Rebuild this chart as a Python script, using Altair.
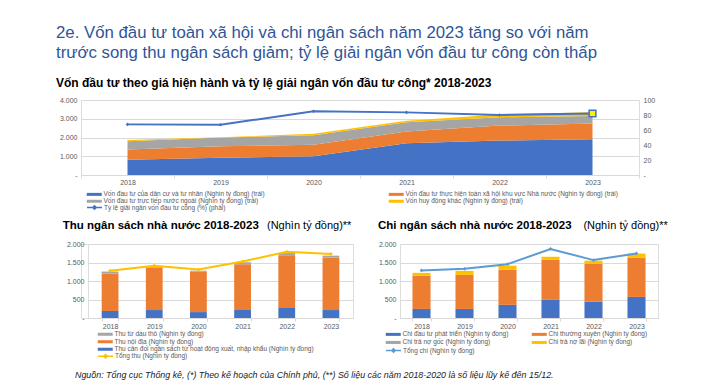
import altair as alt
import pandas as pd

FONT = "Liberation Sans"
BLUE = "#4472C4"
ORANGE = "#ED7D31"
GRAY = "#A5A5A5"
YELLOW = "#FFC000"
LIGHTBLUE = "#5B9BD5"
GRID = "#D9D9D9"
LBL = "#595959"

years = ["2018", "2019", "2020", "2021", "2022", "2023"]

# --- Chart 1: investment (stacked area, left) + disbursement rate (line, right)
inv_series = [
    "Vốn đầu tư của dân cư và tư nhân (Nghìn tỷ đồng) (trái)",
    "Vốn đầu tư thực hiện toàn xã hội khu vực Nhà nước (Nghìn tỷ đồng) (trái)",
    "Vốn đầu tư trực tiếp nước ngoài (Nghìn tỷ đồng) (trái)",
    "Vốn huy động khác (Nghìn tỷ đồng) (trái)",
]
inv_private = [820, 925, 995, 1690, 1835, 1905]
inv_state = [535, 605, 625, 625, 800, 840]
inv_fdi = [440, 465, 500, 500, 445, 405]
inv_other = [75, 15, 75, 75, 145, 200]
rate_label = "Tỷ lệ giải ngân vốn đầu tư công (%) (phải)"
rate_values = [67.5, 67, 85, 83.5, 80, 82]

# --- Chart 2: state budget revenue
rev_series = [
    "Thu từ dầu thô (Nghìn tỷ đồng)",
    "Thu nội địa (Nghìn tỷ đồng)",
    "Thu cân đối ngân sách từ hoạt động xuất, nhập khẩu (Nghìn tỷ đồng)",
]
rev_oil = [55, 20, 20, 55, 60, 55]
rev_domestic = [1010, 1140, 1100, 1235, 1425, 1415]
rev_trade = [190, 215, 160, 215, 270, 215]
rev_total_label = "Tổng thu (Nghìn tỷ đồng)"
rev_total = [1280, 1415, 1310, 1525, 1790, 1730]

# --- Chart 3: state budget expenditure
exp_series = [
    "Chi đầu tư phát triển (Nghìn tỷ đồng)",
    "Chi thường xuyên (Nghìn tỷ đồng)",
    "Chi trả nợ gốc (Nghìn tỷ đồng)",
    "Chi trả nợ lãi (Nghìn tỷ đồng)",
]
exp_dev = [245, 245, 355, 490, 445, 570]
exp_regular = [895, 920, 950, 1085, 1020, 1060]
exp_interest = [80, 110, 110, 80, 85, 110]
exp_total_label = "Tổng chi (Nghìn tỷ đồng)"
exp_total = [1285, 1330, 1455, 1865, 1565, 1745]

# --- Texts
main_title = [
    "2e. Vốn đầu tư toàn xã hội và chi ngân sách năm 2023 tăng so với năm",
    "trước song thu ngân sách giảm; tỷ lệ giải ngân vốn đầu tư công còn thấp",
]
title1 = "Vốn đầu tư theo giá hiện hành và tỷ lệ giải ngân vốn đầu tư công* 2018-2023"
title2 = "Thu ngân sách nhà nước 2018-2023"
title3 = "Chi ngân sách nhà nước 2018-2023"
unit_text = "(Nghìn tỷ đồng)**"
footnote = ("Nguồn: Tổng cục Thống kê, (*) Theo kế hoạch của Chính phủ, (**) Số liệu các năm "
            "2018-2020 là số liệu lũy kế đến 15/12.")


def long_df(field, pairs):
    rows = []
    for k, (name, vals) in enumerate(pairs):
        for y, v in zip(years, vals):
            rows.append({"year": y, field: name, "k": k, "value": v})
    return pd.DataFrame(rows)


df1 = long_df("inv", [(inv_series[0], inv_private), (inv_series[1], inv_state),
                      (inv_series[2], inv_fdi), (inv_series[3], inv_other)])
df_rate = pd.DataFrame({"year": years, "value": rate_values, "rname": [rate_label] * 6})

df2 = long_df("rev", [(rev_series[2], rev_trade), (rev_series[1], rev_domestic),
                      (rev_series[0], rev_oil)])
df_rev_tot = pd.DataFrame({"year": years, "value": rev_total, "tname": [rev_total_label] * 6})

df3 = long_df("exp", [(exp_series[0], exp_dev), (exp_series[1], exp_regular),
                      (exp_series[3], exp_interest)])
df_exp_tot = pd.DataFrame({"year": years, "value": exp_total, "cname": [exp_total_label] * 6})

num_expr = "datum.value == 0 ? '-' : replace(format(datum.value, ','), ',', '.')"


def x_axis(pad):
    return alt.Axis(title=None, labelAngle=0, labelFont=FONT, labelFontSize=7, labelColor=LBL,
                    tickBand="extent", tickColor=GRID, tickSize=3, domainColor=GRID,
                    grid=False, labelPadding=pad)


def y_axis(vals, orient="left"):
    return alt.Axis(title=None, orient=orient, values=vals, labelExpr=num_expr,
                    grid=(orient == "left"), gridColor=GRID, domain=False, ticks=False,
                    labelFont=FONT, labelFontSize=7, labelColor=LBL, labelPadding=4)


BAR_SYM = "M-3,-0.6H3V0.6H-3Z"
LINE_SYM = "M-3,0H3M0,-0.7L0.7,0L0,0.7L-0.7,0Z"


def fill_legend(lx, ly, cols, colpad, rowpad):
    return alt.Legend(orient="none", legendX=lx, legendY=ly, columns=cols, columnPadding=colpad,
                      rowPadding=rowpad, title=None, padding=0, symbolType=BAR_SYM, symbolSize=25,
                      symbolStrokeWidth=0, labelFont=FONT, labelFontSize=6.5, labelColor=LBL,
                      labelOffset=6, labelLimit=400)


def line_legend(lx, ly, color):
    return alt.Legend(orient="none", legendX=lx, legendY=ly, title=None, padding=0,
                      symbolType=LINE_SYM, symbolSize=25, symbolStrokeWidth=1.5,
                      symbolFillColor=color, labelFont=FONT, labelFontSize=6.5, labelColor=LBL,
                      labelOffset=6, labelLimit=400)


def text_layer(s, x, y, size, weight="normal", color="black", style="normal"):
    return alt.Chart(pd.DataFrame({"t": [s]})).mark_text(
        align="left", baseline="alphabetic", font=FONT, fontSize=size, fontWeight=weight,
        color=color, fontStyle=style).encode(text="t:N", x=alt.value(x), y=alt.value(y))


# legend entries are laid out column by column
inv_legend_order = [inv_series[0], inv_series[2], inv_series[1], inv_series[3]]
exp_legend_order = [exp_series[0], exp_series[2], exp_series[1], exp_series[3]]
colour_of = {inv_series[0]: BLUE, inv_series[1]: ORANGE, inv_series[2]: GRAY, inv_series[3]: YELLOW,
             exp_series[0]: BLUE, exp_series[1]: ORANGE, exp_series[2]: GRAY, exp_series[3]: YELLOW}

# ---------------- Chart 1
W1, H1 = 558, 75
ax1 = x_axis(0)
xs1 = alt.X("year:O", bandPosition=0.5,
            scale=alt.Scale(type="band", paddingInner=0, paddingOuter=0), axis=ax1)
yl1 = alt.Y("value:Q", stack="zero", scale=alt.Scale(domain=[0, 4000], nice=False),
            axis=y_axis([0, 1000, 2000, 3000, 4000]))
area1 = alt.Chart(df1).mark_area(opacity=1).encode(
    x=xs1, y=yl1,
    fill=alt.Fill("inv:N", scale=alt.Scale(domain=inv_legend_order,
                                           range=[colour_of[s] for s in inv_legend_order]),
                  legend=fill_legend(10, 91, 2, 123, 0)),
    order=alt.Order("k:Q", sort="ascending"),
)
yr1 = alt.Y("value:Q", scale=alt.Scale(domain=[0, 100], nice=False),
            axis=y_axis([0, 20, 40, 60, 80, 100], "right"))
line1 = alt.Chart(df_rate).mark_line(strokeWidth=2).encode(
    x=xs1, y=yr1,
    stroke=alt.Stroke("rname:N", scale=alt.Scale(domain=[rate_label], range=[BLUE]),
                      legend=line_legend(10, 104, BLUE)),
)
pts1 = alt.Chart(df_rate).mark_point(shape="diamond", filled=True, size=14, color=BLUE,
                                     opacity=1).encode(x=xs1, y=yr1)
hl1 = alt.Chart(df_rate).transform_filter("datum.year == '2023'").mark_point(
    shape="square", filled=True, size=45, fill="#FFF200", stroke=BLUE, strokeWidth=1.5,
    opacity=1).encode(x=xs1, y=yr1)

chart1 = alt.layer(
    area1,
    alt.layer(line1, pts1, hl1),
    text_layer(main_title[0], -25, -61.8, 16.8, color="#2F5597"),
    text_layer(main_title[1], -25, -41.8, 16.8, color="#2F5597"),
    text_layer(title1, -25, -12.8, 12, weight="bold"),
).resolve_scale(y="independent").properties(width=W1, height=H1)

# ---------------- Chart 2
W2, H2 = 265, 74
ax2 = x_axis(1)
xs2 = alt.X("year:O", scale=alt.Scale(paddingInner=0.62, paddingOuter=0.31), axis=ax2)
xs2c = alt.X("year:O", bandPosition=0.5, axis=ax2)
ya2 = y_axis([0, 500, 1000, 1500, 2000])
ys2 = alt.Y("value:Q", stack="zero", scale=alt.Scale(domain=[0, 2000], nice=False), axis=ya2)
bars2 = alt.Chart(df2).mark_bar().encode(
    x=xs2, y=ys2,
    fill=alt.Fill("rev:N", scale=alt.Scale(domain=rev_series, range=[GRAY, ORANGE, BLUE]),
                  legend=fill_legend(14, 87, 1, 10, 0.5)),
    order=alt.Order("k:Q", sort="ascending"),
)
ys2l = alt.Y("value:Q", scale=alt.Scale(domain=[0, 2000], nice=False), axis=ya2)
line2 = alt.Chart(df_rev_tot).mark_line(strokeWidth=2).encode(
    x=xs2c, y=ys2l,
    stroke=alt.Stroke("tname:N", scale=alt.Scale(domain=[rev_total_label], range=[YELLOW]),
                      legend=line_legend(14, 108.7, YELLOW)),
)
pts2 = alt.Chart(df_rev_tot).mark_point(shape="diamond", filled=True, size=14, color=YELLOW,
                                        opacity=1).encode(x=xs2c, y=ys2l)
chart2 = alt.layer(
    bars2, line2, pts2,
    text_layer(title2, -25.3, -15.5, 11.5, weight="bold"),
    text_layer(unit_text, 179, -15.5, 11),
    text_layer(footnote, -13, 134.4, 8.9, color="#222222", style="italic"),
).properties(width=W2, height=H2)

# ---------------- Chart 3
W3, H3 = 258, 74
ax3 = x_axis(1)
xs3 = alt.X("year:O", scale=alt.Scale(paddingInner=0.58, paddingOuter=0.29), axis=ax3)
xs3c = alt.X("year:O", bandPosition=0.5, axis=ax3)
ya3 = y_axis([0, 500, 1000, 1500, 2000])
ys3 = alt.Y("value:Q", stack="zero", scale=alt.Scale(domain=[0, 2000], nice=False), axis=ya3)
bars3 = alt.Chart(df3).mark_bar().encode(
    x=xs3, y=ys3,
    fill=alt.Fill("exp:N", scale=alt.Scale(domain=exp_legend_order,
                                           range=[colour_of[s] for s in exp_legend_order]),
                  legend=fill_legend(-10, 87, 2, 22, 1.2)),
    order=alt.Order("k:Q", sort="ascending"),
)
ys3l = alt.Y("value:Q", scale=alt.Scale(domain=[0, 2000], nice=False), axis=ya3)
line3 = alt.Chart(df_exp_tot).mark_line(strokeWidth=2).encode(
    x=xs3c, y=ys3l,
    stroke=alt.Stroke("cname:N", scale=alt.Scale(domain=[exp_total_label], range=[LIGHTBLUE]),
                      legend=line_legend(-10, 103, LIGHTBLUE)),
)
pts3 = alt.Chart(df_exp_tot).mark_point(shape="diamond", filled=True, size=14, color=LIGHTBLUE,
                                        opacity=1).encode(x=xs3c, y=ys3l)
chart3 = alt.layer(
    bars3, line3, pts3,
    text_layer(title3, -22, -15.5, 11.5, weight="bold"),
    text_layer(unit_text, 183.4, -15.5, 11),
).properties(width=W3, height=H3)

spacer = alt.Chart(pd.DataFrame({"s": [0]})).mark_point(opacity=0).encode(
    x=alt.value(0), y=alt.value(0)).properties(width=7, height=H2)

indep = dict(x="independent", y="independent", fill="independent", stroke="independent")
bottom_pair = alt.hconcat(chart2, chart3, spacing=47, bounds="flush").resolve_scale(**indep)
bottom_row = alt.hconcat(spacer, bottom_pair, spacing=0, bounds="flush").resolve_scale(**indep)

chart = alt.vconcat(chart1, bottom_row, spacing=69, bounds="flush").resolve_scale(
    **indep
).properties(
    padding={"left": 47, "top": 16, "right": 0, "bottom": 0}
).configure_view(stroke=None).configure(background="white")

chart.save("out.html", embed_options={"renderer": "svg", "actions": False})
